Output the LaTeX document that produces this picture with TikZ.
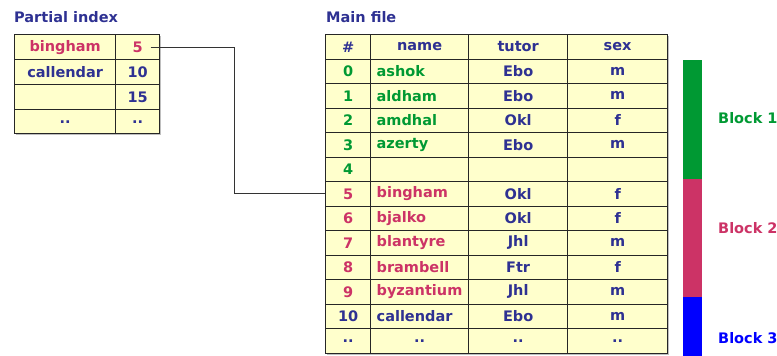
\documentclass[tikz,border=0pt]{standalone}
\usepackage{fontspec}
\setmainfont{DejaVu Sans}
\usetikzlibrary{positioning}
\definecolor{navy}{HTML}{2E3192}
\definecolor{grn}{HTML}{009933}
\definecolor{crim}{HTML}{CC3366}
\definecolor{blu}{HTML}{0000FF}
\definecolor{pale}{HTML}{FFFFCC}
\tikzset{
  cell/.style={draw=black!85, line width=1.3pt, fill=pale, anchor=north west, inner sep=0pt,
    minimum height=24.5pt, text=navy, font=\bfseries\fontsize{14.5}{16}\selectfont},
  namecell/.style={cell, minimum width=98pt, text width=86pt, inner xsep=6pt, align=left},
  title/.style={anchor=west, inner sep=0pt, text=navy, font=\bfseries\fontsize{14.5}{16}\selectfont},
  barpart/.style={anchor=north west, inner sep=0pt, minimum width=19pt},
  blocklabel/.style={anchor=west, inner sep=0pt, font=\bfseries\fontsize{14.5}{16}\selectfont}
}

\begin{document}
\begin{tikzpicture}[x=1pt, y=-1pt]
    \useasboundingbox (0,0) rectangle (777,356);
    % partial index
    \node[title] (ptitle) at (14,17) {Partial index};
    \fill[black!25] (16,36) rectangle (161,135);
    \node[cell, minimum width=101pt, minimum height=25pt, text=crim] (pn1) at (14,34) {bingham};
    \node[cell, minimum width=44pt, minimum height=25pt, text=crim] (pk1) at (115,34) {5};
    \node[cell, minimum width=101pt, minimum height=25pt] (pn2) at (14,59) {callendar};
    \node[cell, minimum width=44pt, minimum height=25pt] (pk2) at (115,59) {10};
    \node[cell, minimum width=101pt, minimum height=25pt] (pn3) at (14,84) {};
    \node[cell, minimum width=44pt, minimum height=25pt] (pk3) at (115,84) {15};
    \node[cell, minimum width=101pt, minimum height=24pt] (pn4) at (14,109) {..};
    \node[cell, minimum width=44pt, minimum height=24pt] (pk4) at (115,109) {..};

    % main file
    \node[title] (mtitle) at (326,17) {Main file};
    \fill[black!25] (327,36) rectangle (669,355);
    \node[cell, minimum width=45pt] (h0) at (325,34) {\#};
    \node[cell, minimum width=98pt] (h1) at (370,34) {name};
    \node[cell, minimum width=99pt] (h2) at (468,34) {tutor};
    \node[cell, minimum width=100pt] (h3) at (567,34) {sex};
    \foreach \k/\nm/\tu/\sx/\cl in {0/ashok/Ebo/m/grn, 1/aldham/Ebo/m/grn, 2/amdhal/Okl/f/grn,
        3/azerty/Ebo/m/grn, 4/{}/{}/{}/grn, 5/bingham/Okl/f/crim, 6/bjalko/Okl/f/crim,
        7/blantyre/Jhl/m/crim, 8/brambell/Ftr/f/crim, 9/byzantium/Jhl/m/crim,
        10/callendar/Ebo/m/navy}
    {
        \node[cell, minimum width=45pt, text=\cl] (n\k) at (325,{34+24.5*(\k+1)}) {\k};
        \node[namecell, text=\cl] (nm\k) at (370,{34+24.5*(\k+1)}) {\nm};
        \node[cell, minimum width=99pt] (tu\k) at (468,{34+24.5*(\k+1)}) {\tu};
        \node[cell, minimum width=100pt] (sx\k) at (567,{34+24.5*(\k+1)}) {\sx};
    }
    \node[cell, minimum width=45pt] (n11) at (325,328) {..};
    \node[cell, minimum width=98pt] (nm11) at (370,328) {..};
    \node[cell, minimum width=99pt] (tu11) at (468,328) {..};
    \node[cell, minimum width=100pt] (sx11) at (567,328) {..};

    % pointer from index to record
    \coordinate (elbow) at (234,0);
    \draw[black!80, line width=0.9pt] ([xshift=13pt]pk1.center) -- (pk1.center -| elbow) |- (n5.west);

    % blocks
    \node[barpart, fill=grn, minimum height=119pt] (blk1) at (683,60) {};
    \node[barpart, fill=crim, minimum height=118pt] (blk2) at (683,179) {};
    \node[barpart, fill=blu, minimum height=60pt] (blk3) at (683,297) {};
    \node[blocklabel, text=grn] (lb1) at (718,118) {Block 1};
    \node[blocklabel, text=crim] (lb2) at (718,228) {Block 2};
    \node[blocklabel, text=blu] (lb3) at (718,338) {Block 3};
\end{tikzpicture}
\end{document}
